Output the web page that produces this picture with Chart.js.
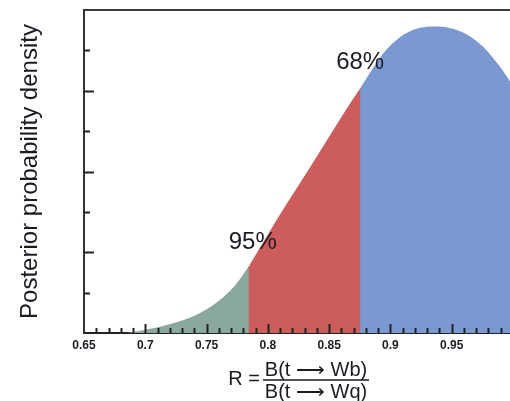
<!DOCTYPE html>
<html>
<head>
<meta charset="utf-8">
<script src="https://cdn.jsdelivr.net/npm/chart.js@4.4.1/dist/chart.umd.min.js"></script>
<style>
  html, body { margin: 0; padding: 0; background: #fff; overflow: hidden; }
</style>
</head>
<body>
<canvas id="posterior" width="530" height="401"></canvas>
<script>
// Posterior of R, split into the 95% (green), 68% (red) and central (blue) bands.
const greenX = [0.685, 0.700, 0.715, 0.730, 0.745, 0.760, 0.773, 0.785];
const greenY = [0.00, 0.08, 0.18, 0.31, 0.50, 0.80, 1.17, 1.68];
const redX   = [0.785, 0.809, 0.836, 0.863, 0.876];
const redY   = [1.68, 2.89, 4.18, 5.49, 6.09];
const blueX  = [0.876, 0.894, 0.908, 0.922, 0.935, 0.949, 0.962, 0.976, 0.989, 1.0];
const blueY  = [6.09, 6.92, 7.33, 7.54, 7.59, 7.55, 7.40, 7.08, 6.61, 6.12];

const bandLabels = ['95%', '68%'];
const bandLabelX = [0.7877, 0.8753];
const bandLabelY = [2.25, 6.70];

const xMin = 0.65, xMax = 1.0, xMajor = 0.05, xMinor = 0.01;
const yMin = 0, yMax = 8, yMinor = 1;   // major every 2

const yTitle = 'Posterior probability density';
const xTitleLeft = 'R =';
const xTitleNum = 'B(t \u27F6 Wb)';
const xTitleDen = 'B(t \u27F6 Wq)';

const INK = '#1b1b24';
const FONT = '"Liberation Sans", Arial, Helvetica, sans-serif';

function pts(xs, ys) { return xs.map((x, i) => ({ x, y: ys[i] })); }

function band(label, xs, ys, color) {
  return {
    label, data: pts(xs, ys), backgroundColor: color, borderColor: color,
    borderWidth: 0, fill: 'origin', pointRadius: 0, tension: 0.35,
  };
}

// inward tick marks, box top edge, band percentages and the ratio title
const decorations = {
  id: 'decorations',
  afterDatasetsDraw(chart) {
    const { ctx, scales: { x, y } } = chart;
    ctx.save();
    // close the antialiasing seam where two bands meet
    chart.data.datasets.slice(1).forEach((ds) => {
      const p = ds.data[0];
      const px = x.getPixelForValue(p.x);
      ctx.strokeStyle = ds.backgroundColor;
      ctx.lineWidth = 1.5;
      ctx.beginPath();
      ctx.moveTo(px, y.getPixelForValue(0));
      ctx.lineTo(px, y.getPixelForValue(p.y) + 1);
      ctx.stroke();
    });

    ctx.fillStyle = INK;
    ctx.font = '24px ' + FONT;
    ctx.textAlign = 'center';
    ctx.textBaseline = 'middle';
    bandLabels.forEach((t, i) => {
      ctx.fillText(t, x.getPixelForValue(bandLabelX[i]), y.getPixelForValue(bandLabelY[i]));
    });
    ctx.restore();
  },
  afterDraw(chart) {
    const { ctx, chartArea: a, scales: { x, y } } = chart;
    ctx.save();
    ctx.strokeStyle = '#222';
    ctx.lineWidth = 2;
    ctx.beginPath();
    const nx = Math.round((xMax - xMin) / xMinor);
    for (let i = 1; i < nx; i++) {
      const px = Math.round(x.getPixelForValue(xMin + i * xMinor)) + 0.5;
      const len = i % 5 === 0 ? 9 : 5;
      ctx.moveTo(px, a.bottom);
      ctx.lineTo(px, a.bottom - len);
    }
    for (let v = yMin + yMinor; v < yMax; v += yMinor) {
      const py = Math.round(y.getPixelForValue(v)) + 0.5;
      const len = v % 2 === 0 ? 10 : 6;
      ctx.moveTo(a.left, py);
      ctx.lineTo(a.left + len, py);
    }
    ctx.stroke();

    ctx.strokeStyle = '#3c3c3c';
    ctx.beginPath();
    ctx.moveTo(a.left - 1, a.top);
    ctx.lineTo(a.right, a.top);
    ctx.stroke();

    // x title: R = fraction
    ctx.fillStyle = INK;
    ctx.font = '20px ' + FONT;
    ctx.textBaseline = 'alphabetic';
    ctx.textAlign = 'center';
    ctx.fillText(xTitleLeft, 244, 385);
    ctx.fillText(xTitleNum, 316, 376);
    ctx.fillText(xTitleDen, 316, 398);
    ctx.lineWidth = 1.6;
    ctx.strokeStyle = INK;
    ctx.beginPath();
    ctx.moveTo(263, 380);
    ctx.lineTo(369, 380);
    ctx.stroke();
    ctx.restore();
  },
};

new Chart(document.getElementById('posterior'), {
  type: 'line',
  data: {
    datasets: [
      band('95%', greenX, greenY, '#8ba89f'),
      band('68%', redX, redY, '#cd5c5c'),
      band('central', blueX, blueY, '#7b99d0'),
    ],
  },
  options: {
    responsive: false,
    animation: false,
    layout: { padding: { left: 0, top: 10, right: 17, bottom: 0 } },
    plugins: { legend: { display: false }, tooltip: { enabled: false } },
    scales: {
      x: {
        type: 'linear', min: xMin, max: xMax,
        grid: { display: true, drawOnChartArea: false, drawTicks: false },
        border: { color: '#222', width: 2 },
        ticks: {
          stepSize: xMajor, maxRotation: 0, autoSkip: false, padding: 5,
          color: INK, font: { family: FONT, size: 12, weight: 'bold' },
          callback: (v) => String(Math.round(v * 100) / 100),
        },
        afterFit: (s) => { s.height = 68; },
      },
      y: {
        min: yMin, max: yMax,
        grid: { display: true, drawOnChartArea: false, drawTicks: false },
        border: { color: '#333', width: 2 },
        ticks: { display: false },
        title: {
          display: true, text: yTitle, color: INK,
          font: { family: FONT, size: 24 }, padding: { top: 16, bottom: 0 },
        },
        afterFit: (s) => { s.width = 84; },
      },
    },
  },
  plugins: [decorations],
});
</script>
</body>
</html>
